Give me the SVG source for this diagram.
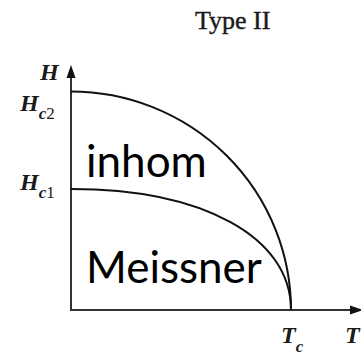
<svg xmlns="http://www.w3.org/2000/svg" width="361" height="355" viewBox="0 0 361 355">
<style>
.ax{stroke:#333;stroke-width:2;fill:none}
.cv{stroke:#111;stroke-width:2;fill:none}
.ser{font-family:"Liberation Serif","Times New Roman",serif;fill:#1a1a1a}
.it{font-style:italic;font-weight:bold}
.lab{font-family:Lato,"Noto Sans",sans-serif;fill:#000;font-size:44px}
</style>
<rect width="361" height="355" fill="#fff"/>
<g id="title"><text class="ser" x="195" y="29" font-size="26" stroke="#1a1a1a" stroke-width="0.4">Type II</text></g>
<g id="connectors">
<line class="ax" x1="71" y1="311" x2="71" y2="76"/>
<polygon points="71,65 66.5,78 75.5,78" fill="#111"/>
<line class="ax" x1="70" y1="310" x2="352" y2="310"/>
<polygon points="363,310 350,305.5 350,314.5" fill="#111"/>
<path id="hc2curve" class="cv" d="M71,91.5 A220,218.5 0 0 1 291,310"/>
<path id="hc1curve" class="cv" d="M71,189 C203,189 291,237 291,310"/>
</g>
<g id="axis-labels">
<text class="ser it" x="40" y="80" font-size="24">H</text>
<text class="ser" x="20" y="111" font-size="24"><tspan class="it">H</tspan><tspan class="it" font-size="17" dy="8">c</tspan><tspan font-size="17">2</tspan></text>
<text class="ser" x="20" y="190" font-size="24"><tspan class="it">H</tspan><tspan class="it" font-size="17" dy="8">c</tspan><tspan font-size="17">1</tspan></text>
<text class="ser" x="281" y="343" font-size="24"><tspan class="it">T</tspan><tspan class="it" font-size="17" dy="9">c</tspan></text>
<text class="ser it" x="345" y="343" font-size="24">T</text>
</g>
<g id="inhom"><text class="lab" x="86" y="177">inhom</text></g>
<g id="meissner"><text class="lab" x="86" y="283">Meissner</text></g>
</svg>
